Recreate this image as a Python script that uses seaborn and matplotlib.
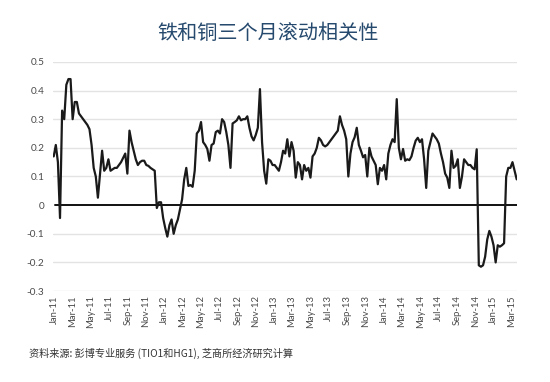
import matplotlib
matplotlib.use("Agg")
import matplotlib.pyplot as plt
import matplotlib.dates as mdates
import seaborn as sns
import pandas as pd

title = "铁和铜三个月滚动相关性"
source = "资料来源: 彭博专业服务 (TIO1和HG1), 芝商所经济研究计算"

start_date = "2010-12-29"
corr_values = [
    # 2011
    0.17, 0.21, 0.15, -0.045, 0.33, 0.30, 0.42, 0.44, 0.44, 0.30, 0.36, 0.36,
    0.32, 0.31, 0.30, 0.29, 0.28, 0.265, 0.21, 0.13, 0.10, 0.026, 0.11, 0.19,
    0.12, 0.13, 0.16, 0.12, 0.125, 0.13, 0.13, 0.14, 0.15, 0.165, 0.18, 0.11,
    0.26,
    0.22, 0.19, 0.16, 0.14, 0.15, 0.155, 0.155, 0.14, 0.137, 0.13, 0.125, 0.12,
    -0.01, 0.01, 0.01, -0.045, -0.08, -0.11, -0.07, -0.05, -0.10, -0.07, -0.05,
    -0.015, 0.02, 0.09, 0.13, 0.067, 0.07, 0.064, 0.12, 0.25, 0.26, 0.29, 0.22,
    # 2012 H2
    0.21, 0.196, 0.155, 0.21, 0.215, 0.255, 0.26, 0.25, 0.30, 0.29, 0.255, 0.21,
    0.13, 0.285, 0.29, 0.296, 0.31, 0.296, 0.30, 0.30, 0.31, 0.27, 0.24, 0.226,
    0.245, 0.27, 0.405, 0.22, 0.12, 0.075, 0.16, 0.155, 0.14, 0.14, 0.13, 0.12,
    # 2013
    0.15, 0.19, 0.18, 0.23, 0.17, 0.22, 0.19, 0.096, 0.15, 0.14, 0.09, 0.14,
    0.12, 0.13, 0.096, 0.17, 0.18, 0.20, 0.235, 0.226, 0.21, 0.205, 0.21, 0.22,
    0.23, 0.24, 0.25, 0.26, 0.31, 0.28, 0.26, 0.23, 0.10, 0.18, 0.22, 0.237,
    # 2014
    0.27, 0.21, 0.19, 0.167, 0.175, 0.10, 0.20, 0.17, 0.155, 0.14, 0.073, 0.13,
    0.12, 0.14, 0.09, 0.18, 0.21, 0.23, 0.22, 0.37, 0.20, 0.16, 0.196, 0.155,
    0.16, 0.157, 0.17, 0.20, 0.225, 0.235, 0.22, 0.23, 0.16, 0.06, 0.19, 0.22,
    0.25, 0.24, 0.23, 0.215, 0.18, 0.15, 0.11, 0.096, 0.06, 0.19, 0.13, 0.137,
    0.16, 0.06, 0.10, 0.16, 0.15, 0.14, 0.14, 0.13, 0.125, 0.195,
    -0.21, -0.215, -0.21, -0.18, -0.12, -0.09, -0.11, -0.14, -0.20, -0.14,
    -0.145, -0.14, -0.133,
    # 2015
    0.10, 0.13, 0.13, 0.15, 0.12, 0.09,
]
y_ticks = [-0.3, -0.2, -0.1, 0, 0.1, 0.2, 0.3, 0.4, 0.5]
y_tick_labels = ["-0.3", "-0.2", "-0.1", "0", "0.1", "0.2", "0.3", "0.4", "0.5"]

df = pd.DataFrame({
    "date": pd.date_range(start_date, periods=len(corr_values), freq="7D"),
    "corr": corr_values,
})

sns.set_theme(style="white")
plt.rcParams["font.family"] = ["Lato", "Noto Sans CJK SC", "DejaVu Sans"]

fig = plt.figure(figsize=(5.5, 3.82), dpi=100)
ax = fig.add_axes([0.096, 0.238, 0.844, 0.600])

for t in y_ticks:
    if t != 0:
        ax.axhline(t, color="#e3e3e3", lw=1.0, zorder=0)
ax.axhline(0, color="#111111", lw=1.4, zorder=1,
           xmin=0.004, xmax=1.0)

sns.lineplot(data=df, x="date", y="corr", ax=ax, color="#1a1a1a", lw=1.6, zorder=3)

ax.set_ylim(-0.3, 0.5)
ax.set_xlim(pd.Timestamp("2010-12-26"), pd.Timestamp("2015-03-19"))
ax.set_yticks(y_ticks)
ax.set_yticklabels(y_tick_labels)
ax.xaxis.set_major_locator(mdates.MonthLocator(bymonth=[1, 3, 5, 7, 9, 11]))
ax.xaxis.set_major_formatter(mdates.DateFormatter("%b-%y"))
ax.tick_params(axis="x", rotation=90, labelsize=6.8, colors="#4a4a4a", length=0, pad=3)
ax.tick_params(axis="y", labelsize=7.2, colors="#4a4a4a", length=0, pad=6)
ax.set_xlabel("")
ax.set_ylabel("")
for s in ax.spines.values():
    s.set_visible(False)
ax.grid(False)

fig.text(0.487, 0.912, title, ha="center", va="center", fontsize=14.5,
         color="#264a6e", family=["Noto Sans CJK SC", "DejaVu Sans"])
fig.text(0.053, 0.075, source, ha="left", va="center", fontsize=7.3,
         color="#333333", family=["Noto Sans CJK SC", "DejaVu Sans"])

fig.savefig("out.png", dpi=100, facecolor="white")
